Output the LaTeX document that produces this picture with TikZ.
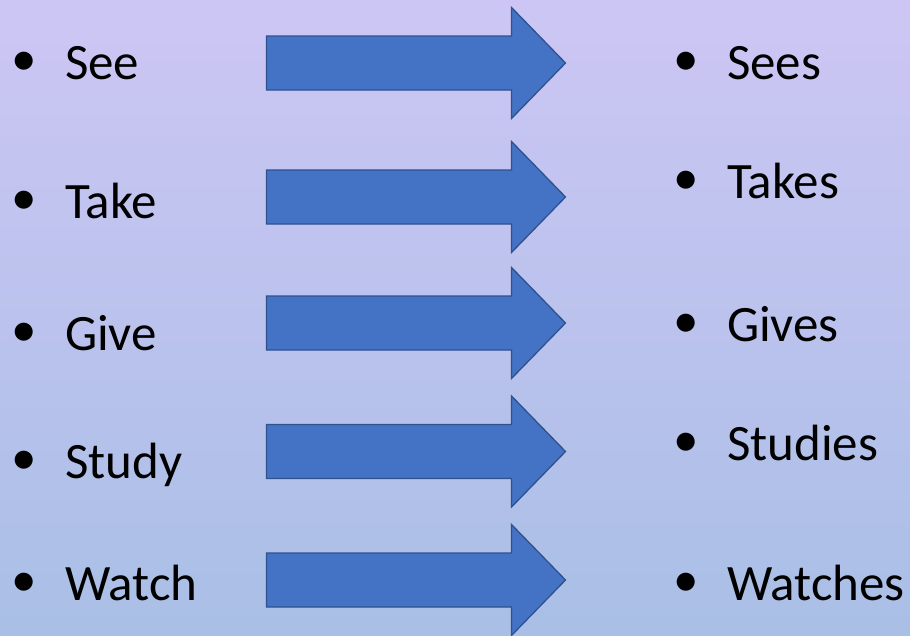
\documentclass[tikz,border=0pt]{standalone}
\usepackage{fontspec}
\setmainfont{Carlito}
\definecolor{bgtop}{HTML}{CDC6F4}
\definecolor{bgbot}{HTML}{A9BFE6}
\definecolor{arrowfill}{HTML}{4472C4}
\definecolor{arrowline}{HTML}{2F528F}
\newcommand{\bul}[1]{\llap{\raisebox{4pt}{•}\hspace{28.5pt}}#1}
\tikzset{
  word/.style={anchor=base west, inner sep=0pt, outer sep=0pt, text=black,
    font=\fontsize{51}{60}\selectfont},
  bluearrow/.style={fill=arrowfill, draw=arrowline, line width=1.3pt, line join=miter}
}
\newcommand{\bigarrow}[2]{%
  \draw[bluearrow, shift={(#1,#2)}] (0,-27) -- (245,-27) -- (245,-55.5) -- (299,0)
    -- (245,55.5) -- (245,27) -- (0,27) -- cycle;}
\begin{document}
\begin{tikzpicture}[x=1pt, y=-1pt]
  \shade[top color=bgtop, bottom color=bgbot] (0,0) rectangle (910,635);
  \useasboundingbox (0,0) rectangle (910,635);
  % left words
  \node[word] (l1) at (65,79) {\bul{See}};
  \node[word] (l2) at (65,218) {\bul{Take}};
  \node[word] (l3) at (65,350) {\bul{Give}};
  \node[word] (l4) at (65,478) {\bul{Study}};
  \node[word] (l5) at (65,600) {\bul{Watch}};
  % right words
  \node[word] (r1) at (727,79) {\bul{Sees}};
  \node[word] (r2) at (727,198) {\bul{Takes}};
  \node[word] (r3) at (727,341) {\bul{Gives}};
  \node[word] (r4) at (727,460) {\bul{Studies}};
  \node[word] (r5) at (727,600) {\bul{Watches}};
  % arrows
  \bigarrow{266.5}{63}
  \bigarrow{266.5}{197}
  \bigarrow{266.5}{323}
  \bigarrow{266.5}{451.5}
  \bigarrow{266.5}{580}
\end{tikzpicture}
\end{document}
